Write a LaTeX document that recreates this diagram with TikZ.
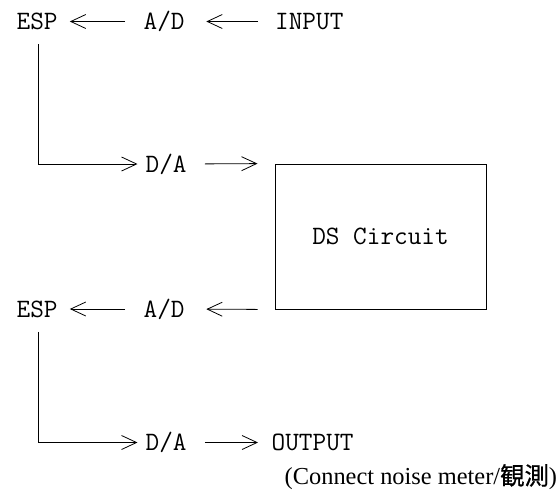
\documentclass[tikz,border=0pt]{standalone}
\usepackage{fontspec}
\setmainfont{Liberation Serif}
\newfontfamily\cjkfont[FakeBold=0.6]{Noto Sans CJK JP}
\usetikzlibrary{arrows.meta}
\begin{document}
\begin{tikzpicture}[x=1pt,y=-1pt,
  mono/.style={font=\ttfamily\fontsize{26.5}{26.5}\selectfont},
  lbl/.style={mono, inner sep=0pt, text height=16.2pt, text depth=0pt, anchor=west},
  arr/.style={-{Straight Barb[length=15pt,width=14pt]}, line width=0.8pt},
  box/.style={draw, line width=1pt, mono, minimum width=211pt, minimum height=145pt, inner sep=0pt}]
\useasboundingbox (0,0) rectangle (560,499);
% row 1
\node[lbl] (esp1) at (16.5,21.5) {ESP};
\node[lbl] (ad1) at (143.5,21.5) {A/D};
\node[lbl] (input) at (275,21.5) {INPUT};
% row 2
\node[lbl] (da1) at (145.5,164) {D/A};
\node[box] (ds) at (380.5,236.5) {DS Circuit};
% row 3
\node[lbl] (esp2) at (16.5,309) {ESP};
\node[lbl] (ad2) at (143.5,309) {A/D};
% row 4
\node[lbl] (da2) at (145.5,442.5) {D/A};
\node[lbl] (output) at (271.5,442.5) {OUTPUT};
\node[anchor=west, inner sep=0pt, font=\fontsize{24.4}{24.4}\selectfont] (note) at (284.5,477) {(Connect noise meter/{\cjkfont 観測})};
% connectors
\draw[arr, shorten <=17pt, shorten >=21.5pt] (input.west) -- (ad1.east);
\draw[arr, shorten <=18.5pt, shorten >=12pt] (ad1.west) -- (esp1.east);
\draw[arr, shorten >=8pt] ([xshift=1pt,yshift=-14.5pt]esp1.south) |- (da1.west);
\draw[arr, shorten <=18pt, shorten >=17pt] (da1.east) -- (ds.north west);
\draw[arr, shorten <=17pt, shorten >=21.5pt] (ds.south west) -- (ad2.east);
\draw[arr, shorten <=18.5pt, shorten >=12pt] (ad2.west) -- (esp2.east);
\draw[arr, shorten >=8pt] ([xshift=1pt,yshift=-14.5pt]esp2.south) |- (da2.west);
\draw[arr, shorten <=18pt, shorten >=13.5pt] (da2.east) -- (output.west);
\end{tikzpicture}
\end{document}
